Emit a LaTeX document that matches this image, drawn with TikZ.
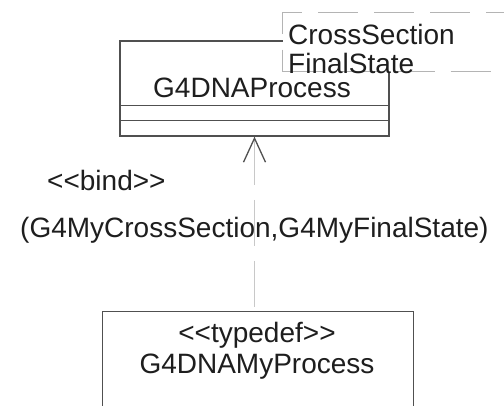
\documentclass[tikz,border=0pt]{standalone}
\usepackage{fontspec}
\setmainfont[Ligatures=NoCommon]{Liberation Sans}
\usetikzlibrary{arrows.meta}
\definecolor{boxline}{HTML}{505050}
\definecolor{tmplline}{HTML}{B4B4B4}
\definecolor{connline}{HTML}{C8C8C8}
\definecolor{txt}{HTML}{1E1E1E}
\tikzset{
  umlbox/.style={draw=boxline, line width=1.3pt, fill=white, rectangle, inner sep=0pt},
  tmplbox/.style={draw=tmplline, line width=1.3pt, fill=white, rectangle, inner sep=0pt, dash pattern=on 40pt off 16pt},
  lbl/.style={text=txt, inner sep=0pt, font=\fontsize{28}{29}\selectfont},
  conn/.style={draw=connline, line width=1.3pt, dash pattern=on 46pt off 15pt},
}
\begin{document}
\begin{tikzpicture}[x=1pt,y=-1pt]
\useasboundingbox (0,0) rectangle (504,405);
% class box
\node[umlbox, minimum width=269pt, minimum height=95pt] (proc) at (254.5,88.5) {};
\draw[boxline, line width=1.3pt] ([yshift=31pt]proc.south west) -- ([yshift=31pt]proc.south east);
\draw[boxline, line width=1.3pt] ([yshift=16pt]proc.south west) -- ([yshift=16pt]proc.south east);
\node[lbl, anchor=base] (procname) at (252,97) {G4DNAProcess};
% template parameter box
\node[tmplbox, minimum width=260pt, minimum height=59pt, anchor=north west] (tmpl) at (282,12) {};
\node[lbl, anchor=base west] (tp1) at (288,44) {CrossSection};
\node[lbl, anchor=base west] (tp2) at (288,73) {FinalState};
% typedef box
\node[umlbox, minimum width=311pt, minimum height=110pt, anchor=north west] (tdef) at (102,311) {};
\node[lbl, anchor=base] (tdefst) at (257,342) {{<}{<}typedef{>}{>}};
\node[lbl, anchor=base] (tdefname) at (257,373) {G4DNAMyProcess};
% binding connector
\draw[conn, {Straight Barb[length=24pt, width=22pt, color=boxline, line width=1.3pt]}-] (proc.south) -- (tdef.north -| proc.south);
\node[lbl, anchor=base west] (bind) at (47,190) {{<}{<}bind{>}{>}};
\node[lbl, anchor=base west] (args) at (20,237) {(G4MyCrossSection,G4MyFinalState)};
\end{tikzpicture}
\end{document}
